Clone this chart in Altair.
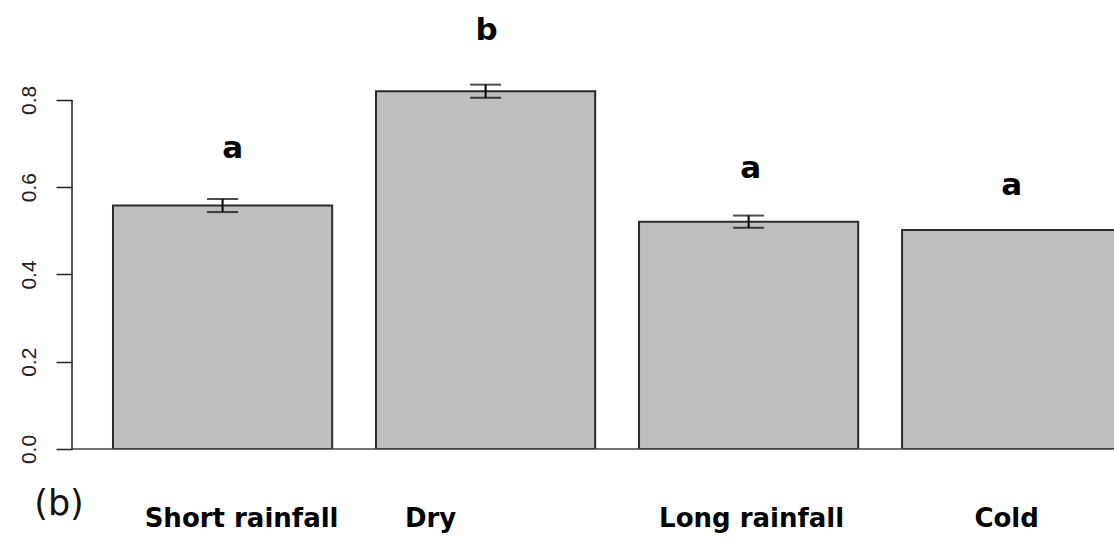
import altair as alt
import pandas as pd

# Seasonal means with standard errors and significance letters
seasons = ["Short rainfall", "Dry", "Long rainfall", "Cold"]
means = [0.558, 0.820, 0.521, 0.502]
std_err = [0.015, 0.015, 0.014, None]
letters = ["a", "b", "a", "a"]
letter_heights = [0.667, 0.9375, 0.621, 0.582]
y_ticks = [0.0, 0.2, 0.4, 0.6, 0.8]

# Horizontal nudges (px) for the text under and above each bar
label_dx = {"Short rainfall": 19, "Dry": -55, "Long rainfall": 3, "Cold": -5}
letter_dx = {"Short rainfall": 10, "Dry": 1, "Long rainfall": 2, "Cold": 0}

W, H = 1042, 449

# barplot-style layout: bars of width 1 separated by a space of 0.2
df = pd.DataFrame({"season": seasons, "mean": means, "se": std_err,
                   "letter": letters, "letter_y": letter_heights})
df["pos"] = [0.7 + 1.2 * i for i in range(len(seasons))]
df["left"] = df["pos"] - 0.5
df["right"] = df["pos"] + 0.5
df["lo"] = df["mean"] - df["se"]
df["hi"] = df["mean"] + df["se"]

xs = alt.Scale(domain=[0.013, 4.767], nice=False, zero=False)
ys = alt.Scale(domain=[0, 1.029], nice=False)

yaxis = alt.Axis(values=y_ticks, format=".1f", title=None)


def Y(field):
    return alt.Y(field, scale=ys, axis=yaxis)


def X(field):
    return alt.X(field, scale=xs, axis=None)


base = alt.Chart(df)

bars = base.mark_bar(fill="#bebebe", stroke="#2b2b2b", strokeWidth=2, clip=True).encode(
    x=X("left:Q"), x2="right:Q", y=Y("mean:Q"), y2=alt.datum(0))

baseline = alt.Chart(pd.DataFrame({"v": [0.0]})).mark_rule(
    color="#444", strokeWidth=1.5).encode(
    y=Y("v:Q"), x=alt.value(0), x2=alt.value(W))

yline = alt.Chart(pd.DataFrame({"a": [y_ticks[0]], "b": [y_ticks[-1]]})).mark_rule(
    color="#222", strokeWidth=1.5).encode(
    x=alt.value(0), y=Y("a:Q"), y2="b:Q")

err = base.transform_filter("isValid(datum.se)")
stems = err.mark_rule(color="black", strokeWidth=2).encode(
    x=X("pos:Q"), y=Y("lo:Q"), y2="hi:Q")
caps_lo = err.mark_tick(orient="horizontal", size=31, thickness=2, color="black").encode(
    x=X("pos:Q"), y=Y("lo:Q"))
caps_hi = err.mark_tick(orient="horizontal", size=31, thickness=2, color="black").encode(
    x=X("pos:Q"), y=Y("hi:Q"))

layers = [bars, baseline, yline, stems, caps_lo, caps_hi]

for s in seasons:
    sel = base.transform_filter(alt.datum.season == s)
    layers.append(sel.mark_text(font="DejaVu Sans", fontWeight="bold", fontSize=31,
                                baseline="alphabetic", align="center", color="black",
                                dx=letter_dx[s]).encode(
        x=X("pos:Q"), y=Y("letter_y:Q"), text="letter:N"))
    layers.append(sel.mark_text(font="DejaVu Sans", fontWeight="bold", fontSize=26,
                                baseline="alphabetic", align="center", color="black",
                                dx=label_dx[s]).encode(
        x=X("pos:Q"), y=alt.value(H + 78), text="season:N"))

panel = alt.Chart(pd.DataFrame({"t": ["(b)"]})).mark_text(
    font="DejaVu Sans", fontSize=35, baseline="alphabetic", align="center",
    color="#111").encode(x=alt.value(-13), y=alt.value(H + 66), text="t:N")
layers.append(panel)

chart = alt.layer(*layers).properties(
    width=W, height=H, background="white",
    autosize=alt.AutoSizeParams(type="none"),
    padding={"left": 72, "top": 0, "right": 0, "bottom": 89},
).configure_view(strokeWidth=0, stroke="transparent").configure_axisY(
    domain=False, grid=False,
    tickSize=16, tickWidth=1.5, tickColor="#222",
    labelAngle=270, labelAlign="center", labelBaseline="bottom",
    labelPadding=17, labelFont="Liberation Sans", labelFontSize=21,
    labelColor="#222",
)

chart.save("out.html", embed_options={"renderer": "svg", "actions": False})
